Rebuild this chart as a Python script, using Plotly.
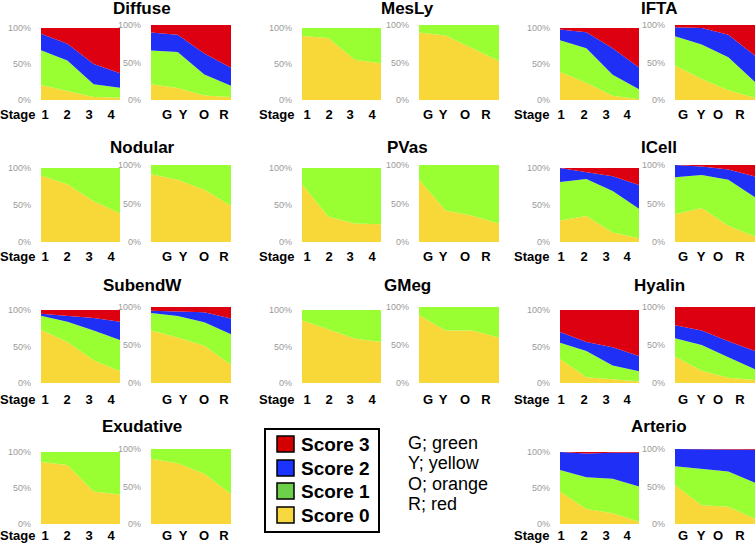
import plotly.graph_objects as go

stage_labels = ["1", "2", "3", "4"]
grade_labels = ["G", "Y", "O", "R"]
score_names = ["Score 0", "Score 1", "Score 2", "Score 3"]
y_tick_labels = ["0%", "50%", "100%"]
grade_notes = ["G; green", "Y; yellow", "O; orange", "R; red"]

# percentage of cases for Score 0..3 (rows) at each stage / grade (columns)
diffuse_stage = [[21, 13, 4, 3], [48, 42, 18, 14], [23, 23, 28, 20], [8, 22, 50, 63]]
diffuse_grade = [[21, 16, 6, 4], [45, 48, 28, 15], [24, 23, 28, 24], [10, 13, 38, 57]]
mesly_stage = [[89, 86, 56, 51], [11, 14, 44, 49]]
mesly_grade = [[90, 86, 69, 52], [10, 14, 31, 48]]
ifta_stage = [[39, 24, 6, 1], [44, 48, 29, 14], [15, 22, 37, 30], [2, 6, 28, 55]]
ifta_grade = [[46, 28, 13, 3], [39, 46, 44, 21], [12, 22, 30, 35], [3, 4, 13, 41]]
nodular_stage = [[90, 78, 55, 39], [10, 22, 45, 61]]
nodular_grade = [[88, 81, 68, 47], [12, 19, 32, 53]]
pvas_stage = [[78, 34, 25, 24], [22, 66, 75, 76]]
pvas_grade = [[81, 41, 34, 24], [19, 59, 66, 76]]
icell_stage = [[29, 35, 13, 5], [52, 50, 56, 40], [19, 9, 20, 32], [0, 6, 11, 23]]
icell_grade = [[36, 44, 21, 7], [48, 43, 60, 51], [16, 11, 13, 27], [0, 2, 6, 15]]
subendw_stage = [[73, 56, 31, 16], [19, 28, 41, 43], [3, 8, 17, 25], [5, 8, 11, 16]]
subendw_grade = [[69, 60, 49, 24], [23, 28, 31, 40], [3, 6, 13, 21], [5, 6, 7, 15]]
gmeg_stage = [[86, 73, 61, 56], [14, 27, 39, 44]]
gmeg_grade = [[89, 69, 69, 60], [11, 31, 31, 40]]
hyalin_stage = [[33, 8, 5, 2], [22, 36, 19, 14], [15, 12, 25, 21], [30, 44, 51, 63]]
hyalin_grade = [[35, 16, 7, 4], [24, 34, 27, 14], [17, 19, 21, 24], [24, 31, 45, 58]]
exudative_stage = [[86, 82, 45, 41], [14, 18, 55, 59]]
exudative_grade = [[87, 81, 67, 40], [13, 19, 33, 60]]
arterio_stage = [[45, 21, 15, 3], [30, 44, 48, 49], [25, 33, 36, 47], [0, 2, 1, 1]]
arterio_grade = [[52, 25, 23, 7], [25, 49, 47, 48], [23, 26, 29, 44], [0, 0, 1, 1]]

panels = [
    ("Diffuse", diffuse_stage, diffuse_grade, 0, 0),
    ("MesLy", mesly_stage, mesly_grade, 0, 1),
    ("IFTA", ifta_stage, ifta_grade, 0, 2),
    ("Nodular", nodular_stage, nodular_grade, 1, 0),
    ("PVas", pvas_stage, pvas_grade, 1, 1),
    ("ICell", icell_stage, icell_grade, 1, 2),
    ("SubendW", subendw_stage, subendw_grade, 2, 0),
    ("GMeg", gmeg_stage, gmeg_grade, 2, 1),
    ("Hyalin", hyalin_stage, hyalin_grade, 2, 2),
    ("Exudative", exudative_stage, exudative_grade, 3, 0),
    ("Arterio", arterio_stage, arterio_grade, 3, 2),
]

# ---- styling / layout (page pixels) ----
W, H = 756, 543
FONT = "Arial, Liberation Sans, sans-serif"
AREA_COLORS = ["#F7D838", "#99FF33", "#1F2FF5", "#DC0011"]
SWATCH_COLORS = ["#F8D840", "#6CD04A", "#1A33FF", "#D40000"]
COL_A = [(41, 120), (302, 381), (560, 639)]
COL_B = [(151, 231), (419, 499), (675, 755)]
ROW_Y = [(28, 100), (168, 242), (310, 383), (452, 524)]
B_TOP_SHIFT = 3
TITLE_Y = [9, 147, 285, 426]
TITLE_X = [142, 407, 659]
LABEL_STANDOFF = [5, 5, 7, 2]
STAGE_GAP = [4, 6, 9]
# tick label offsets from the left edge of each plot, in pixels, per column
STAGE_TICK_PX = [[4, 26, 48, 70], [5, 27, 48, 70], [1, 24, 46, 67]]
GRADE_TICK_PX = [[16, 32, 53, 73], [9, 24, 46, 67], [8, 26, 43, 65]]


def px_x(v):
    return v / W


def px_y(v):
    return 1 - v / H


fig = go.Figure()
layout = {}
annotations = []
shapes = []
k = 0
for title, stage_vals, grade_vals, r, c in panels:
    for s, (vals, labels, tick_px, cols) in enumerate(
        [(stage_vals, stage_labels, STAGE_TICK_PX, COL_A),
         (grade_vals, grade_labels, GRADE_TICK_PX, COL_B)]):
        k += 1
        xa = "x" if k == 1 else f"x{k}"
        ya = "y" if k == 1 else f"y{k}"
        xs = list(range(len(labels)))
        for i, series in enumerate(vals):
            fig.add_trace(go.Scatter(
                x=xs, y=series, name=score_names[i], stackgroup=f"g{k}",
                mode="lines", line=dict(width=0, color=AREA_COLORS[i]),
                fillcolor=AREA_COLORS[i], xaxis=xa, yaxis=ya, showlegend=False))
        top = ROW_Y[r][0] - (B_TOP_SHIFT if s == 1 else 0)
        bot = ROW_Y[r][1]
        x0, x1 = cols[c]
        span = len(labels) - 1
        tickvals = [p / (x1 - x0) * span for p in tick_px[c]]
        kx = "xaxis" if k == 1 else f"xaxis{k}"
        ky = "yaxis" if k == 1 else f"yaxis{k}"
        layout[kx] = dict(
            domain=[px_x(x0), px_x(x1)], anchor=ya, range=[0, span],
            tickvals=tickvals, ticktext=labels, showgrid=False, zeroline=False,
            showline=False, ticks="", ticklabelstandoff=LABEL_STANDOFF[r],
            automargin=False, ticklabeloverflow="allow", fixedrange=True,
            tickfont=dict(family=FONT, size=13, color="black", weight="bold"))
        layout[ky] = dict(
            domain=[px_y(bot), px_y(top)], anchor=xa, range=[0, 100],
            tickvals=[0, 50, 100], ticktext=y_tick_labels, showgrid=False,
            zeroline=False, showline=False, ticks="", ticklabelstandoff=9,
            automargin=False, ticklabeloverflow="allow", fixedrange=True,
            tickfont=dict(family=FONT, size=9, color="#9a9a9a"))
    # panel title
    annotations.append(dict(
        text=f"<b>{title}</b>", x=px_x(TITLE_X[c]), y=px_y(TITLE_Y[r]),
        xref="paper", yref="paper", xanchor="center", yanchor="middle",
        showarrow=False, font=dict(family=FONT, size=17, color="black")))
    # "Stage" label
    lab_y = ROW_Y[r][1] + LABEL_STANDOFF[r] + 9
    annotations.append(dict(
        text="<b>Stage</b>", x=px_x(COL_A[c][0] - STAGE_GAP[c]), y=px_y(lab_y),
        xref="paper", yref="paper", xanchor="right", yanchor="middle",
        showarrow=False, font=dict(family=FONT, size=13, color="black")))

# legend box
LEG_BOX = (265, 429, 379, 532)
shapes.append(dict(type="rect", xref="paper", yref="paper",
                   x0=px_x(LEG_BOX[0]), x1=px_x(LEG_BOX[2]),
                   y0=px_y(LEG_BOX[3]), y1=px_y(LEG_BOX[1]),
                   line=dict(color="black", width=2), fillcolor="white"))
SW_TOPS = [507, 483, 460, 436]  # Score 0..3
for i in range(4):
    t = SW_TOPS[i]
    shapes.append(dict(type="rect", xref="paper", yref="paper",
                       x0=px_x(277), x1=px_x(294), y0=px_y(t + 16), y1=px_y(t),
                       line=dict(color="black", width=1.5),
                       fillcolor=SWATCH_COLORS[i]))
    annotations.append(dict(
        text=f"<b>{score_names[i]}</b>", x=px_x(299), y=px_y(t + 8),
        xref="paper", yref="paper", xanchor="left", yanchor="middle",
        showarrow=False, font=dict(family=FONT, size=19, color="black")))

NOTE_Y = [443, 463, 484, 504]
for i, note in enumerate(grade_notes):
    annotations.append(dict(
        text=note, x=px_x(406), y=px_y(NOTE_Y[i]), xref="paper", yref="paper",
        xanchor="left", yanchor="middle", showarrow=False,
        font=dict(family=FONT, size=18, color="black")))

fig.update_layout(
    width=W, height=H, margin=dict(l=0, r=0, t=0, b=0, autoexpand=False),
    paper_bgcolor="white", plot_bgcolor="white", hovermode=False,
    annotations=annotations, shapes=shapes, showlegend=False, **layout)

# remove the page's default body margin so the figure sits at the window origin
fig.write_html("out.html", config={"displayModeBar": False},
               post_script="document.body.style.margin = '0px';")
